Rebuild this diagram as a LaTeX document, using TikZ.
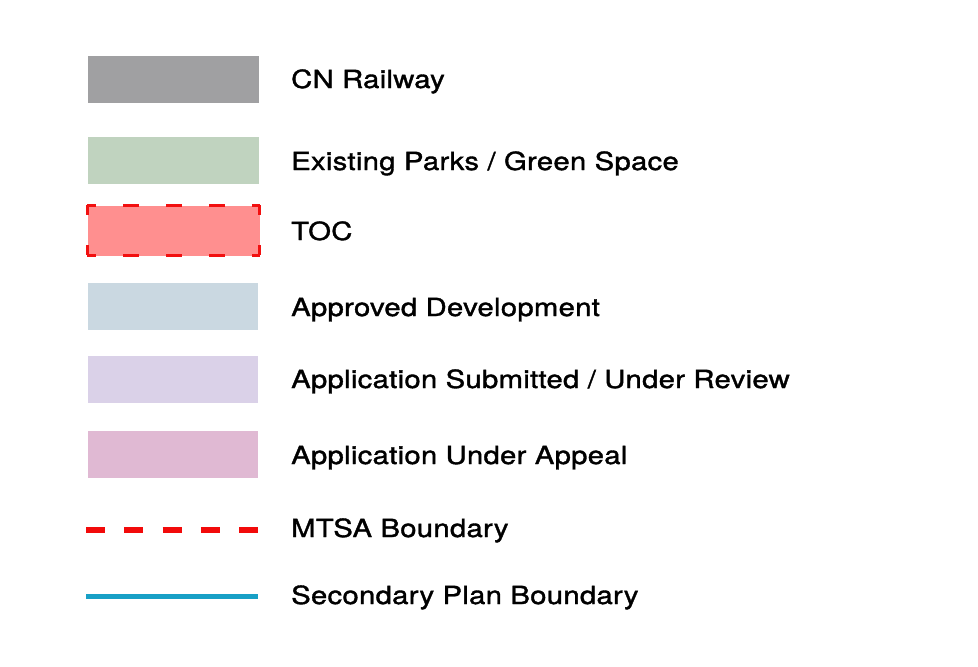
\documentclass[tikz,border=0pt]{standalone}
\usepackage{fontspec}
\setmainfont{TeX Gyre Heros}[FakeStretch=1.17,FakeBold=1.4,LetterSpace=1.2]
\definecolor{railgray}{HTML}{A0A0A2}
\definecolor{parkgreen}{HTML}{C0D3BF}
\definecolor{tocfill}{HTML}{FF8F8F}
\definecolor{tocred}{HTML}{F21010}
\definecolor{approvedblue}{HTML}{CAD8E1}
\definecolor{submittedlilac}{HTML}{DAD1E8}
\definecolor{appealpink}{HTML}{E0B9D3}
\definecolor{mtsared}{HTML}{F20A0A}
\definecolor{planblue}{HTML}{18A0C6}
\begin{document}
\begin{tikzpicture}[x=1pt,y=-1pt,
  swatch/.style={draw=none,minimum width=171pt,minimum height=47pt,inner sep=0pt,anchor=center},
  label/.style={anchor=base west,inner sep=0pt,font=\fontsize{25}{29}\selectfont},
  tocedge/.style={draw=tocred,line width=3.5pt}]
\useasboundingbox (0,0) rectangle (978,667);
\fill[white] (0,0) rectangle (978,667);
% swatches
\node[swatch,fill=railgray] (rail) at (173.5,79) {};
\node[swatch,fill=parkgreen] (park) at (173.5,160) {};
\node[swatch,fill=tocfill,minimum width=172pt,minimum height=50pt] (toc) at (173.5,230.5) {};
\node[swatch,fill=approvedblue,minimum width=170pt] (appr) at (173,306.5) {};
\node[swatch,fill=submittedlilac,minimum width=170pt] (subm) at (173,379) {};
\node[swatch,fill=appealpink,minimum width=170pt] (appe) at (173,454.5) {};
% TOC dashed border
\draw[tocedge,dash pattern=on 16pt off 27pt,dash phase=7pt] (toc.north west) -- (toc.north east);
\draw[tocedge,dash pattern=on 16pt off 27pt,dash phase=7pt] (toc.south west) -- (toc.south east);
\draw[tocedge,dash pattern=on 10pt off 30pt] (toc.north west) -- (toc.south west);
\draw[tocedge,dash pattern=on 10pt off 30pt] (toc.north east) -- (toc.south east);
% lines
\coordinate (m1) at (86,530);
\coordinate (m2) at (258,530);
\draw[draw=mtsared,line width=6pt,dash pattern=on 19pt off 19.25pt] (m1) -- (m2);
\coordinate (b1) at (86,596.5);
\coordinate (b2) at (258,596.5);
\draw[draw=planblue,line width=5pt] (b1) -- (b2);
% labels
\node[label] (lrail) at (291,88) {CN Railway};
\node[label] (lpark) at (291,170) {Existing Parks / Green Space};
\node[label] (ltoc) at (291,240) {TOC};
\node[label] (lappr) at (291,316) {Approved Development};
\node[label] (lsubm) at (291,388) {Application Submitted / Under Review};
\node[label] (lappe) at (291,464) {Application Under Appeal};
\node[label] (lmtsa) at (291,537) {MTSA Boundary};
\node[label] (lplan) at (291,604) {Secondary Plan Boundary};
\end{tikzpicture}
\end{document}
